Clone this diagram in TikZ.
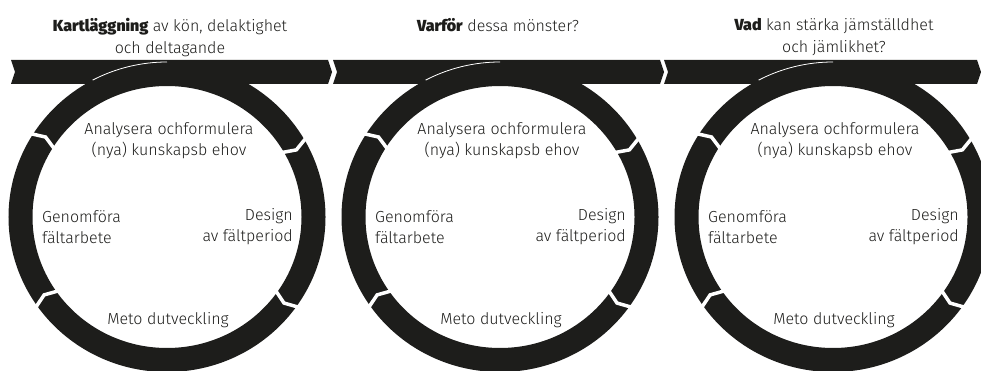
\documentclass[tikz,border=0pt]{standalone}
\usepackage{fontspec}
\setmainfont{Fira Sans}[UprightFont=* Light, BoldFont=* Black]
\usetikzlibrary{calc}
\definecolor{ink}{RGB}{29,29,27}

\begin{document}
\begin{tikzpicture}[
    x=1pt, y=-1pt,
    band/.style={fill=ink},
    ring/.style={draw=ink, line width=24pt},
    notch/.style={draw=white, line width=3.5pt},
    rim/.style={draw=white, line width=0.8pt},
    title/.style={anchor=north, align=center, inner sep=0, text=ink, font=\fontsize{16}{22}\selectfont},
    lbl/.style={inner sep=0, text=ink, font=\fontsize{16}{21}\selectfont}]
\useasboundingbox (0,0) rectangle (981,371);
\clip (0,0) rectangle (981,371);

% the three cycles
\foreach \cx/\nm in {167/A,500/B,833/C} {
    \coordinate (c\nm) at (\cx,217);
    \draw[ring] (c\nm) ellipse [x radius=146.5pt, y radius=143pt];
    \foreach \a in {148,30,-35,-145} {
        \draw[notch] ($(c\nm)+({160*cos(\a)},{-157*sin(\a)})$)
            -- ($(c\nm)+({146.5*cos(\a-2)},{-143*sin(\a-2)})$)
            -- ($(c\nm)+({133*cos(\a)},{-129*sin(\a)})$);
    }
    \node[lbl, align=center] (ana\nm) at ($(c\nm)+(2,-76)$) {Analysera ochformulera\\(nya) kunskapsb ehov};
    \node[lbl, align=left, anchor=west] (gen\nm) at ($(c\nm)+(-125,10)$) {Genomföra\\fältarbete};
    \node[lbl, align=right, anchor=east] (des\nm) at ($(c\nm)+(126,10)$) {Design\\av fältperiod};
    \node[lbl] (met\nm) at ($(c\nm)+(1,103)$) {Meto dutveckling};
}

% arrow band
\path[band] (11,60) -- (328,60) -- (332,72) -- (328,84) -- (11,84) -- (15,72) -- cycle;
\path[band] (333,60) -- (660,60) -- (664,72) -- (660,84) -- (333,84) -- (337,72) -- cycle;
\path[band] (664,60) -- (977,60) -- (981,72) -- (977,84) -- (664,84) -- (668,72) -- cycle;

\foreach \nm in {A,B,C} {
    \draw[rim] ($(c\nm)+({158.5*cos(118)},{-155*sin(118)})$) arc [start angle=118, end angle=90, x radius=158.5pt, y radius=155pt];
}

% questions
\node[title] (titA) at (170,18) {\textbf{Kartläggning} av kön, delaktighet\\och deltagande};
\node[title] (titB) at (498,18) {\textbf{Varför} dessa mönster?};
\node[title] (titC) at (834,18) {\textbf{Vad} kan stärka jämställdhet\\och jämlikhet?};
\end{tikzpicture}
\end{document}
